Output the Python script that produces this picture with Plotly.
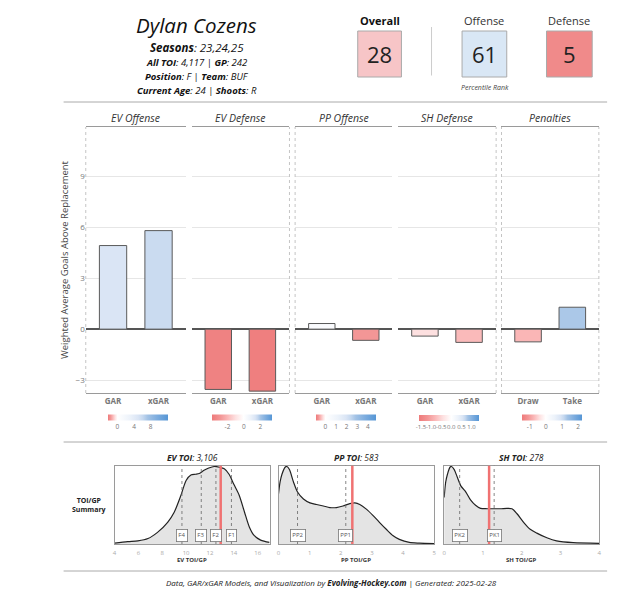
import plotly.graph_objects as go

W, H = 628, 600
def px(x): return x / W
def py(y): return 1 - y / H

FONT = "Open Sans"

# ---------------- data ----------------
player = "Dylan Cozens"
seasons = "23,24,25"
all_toi = "4,117"
games = "242"
position = "F"
team = "BUF"
age = "24"
shoots = "R"

pct_labels = ["Overall", "Offense", "Defense"]
pct_values = [28, 61, 5]

panel_titles = ["EV Offense", "EV Defense", "PP Offense", "SH Defense", "Penalties"]
panel_cats = [["GAR", "xGAR"], ["GAR", "xGAR"], ["GAR", "xGAR"], ["GAR", "xGAR"], ["Draw", "Take"]]
panel_values = [[4.92, 5.80], [-3.55, -3.65], [0.33, -0.66], [-0.41, -0.78], [-0.75, 1.29]]
scale_limits = [(-2.3, 12.1), (-3.85, 3.45), (-0.9, 4.74), (-1.6, 1.37), (-1.47, 2.25)]
scale_ticks = [[0, 4, 8], [-2, 0, 2], [0, 1, 2, 3, 4],
               [-1.5, -1.0, -0.5, 0.0, 0.5, 1.0], [-1, 0, 1, 2]]
scale_ticktext = [["0", "4", "8"], ["-2", "0", "2"], ["0", "1", "2", "3", "4"],
                  ["-1.5", "-1.0", "-0.5", "0.0", "0.5", "1.0"], ["-1", "0", "1", "2"]]
gar_ticks = [-3, 0, 3, 6, 9]

ev_x = [4.0, 5.1, 5.95, 6.8, 7.6, 8.45, 9.0, 9.57, 10.0, 10.4, 10.8, 11.1, 11.5, 11.9,
        12.35, 12.8, 13.2, 13.6, 14.0, 14.45, 14.9, 15.3, 15.7, 16.25, 17.0]
ev_y = [0.01, 0.03, 0.04, 0.07, 0.15, 0.28, 0.41, 0.63, 0.82, 0.89, 0.90, 0.91, 0.95, 0.98,
        1.0, 0.99, 0.97, 0.90, 0.77, 0.63, 0.41, 0.22, 0.11, 0.05, 0.02]
pp_x = [0.0, 0.05, 0.11, 0.21, 0.27, 0.35, 0.48, 0.61, 0.80, 1.01, 1.22, 1.44, 1.65, 1.86,
        2.07, 2.29, 2.45, 2.61, 2.82, 3.03, 3.24, 3.46, 3.67, 3.88, 4.2, 4.52, 5.0]
pp_y = [0.65, 0.80, 0.90, 0.99, 1.0, 0.96, 0.80, 0.67, 0.58, 0.53, 0.51, 0.49, 0.47, 0.47,
        0.49, 0.52, 0.53, 0.51, 0.45, 0.37, 0.28, 0.19, 0.11, 0.06, 0.02, 0.01, 0.004]
sh_x = [0.0, 0.04, 0.085, 0.15, 0.19, 0.26, 0.34, 0.43, 0.56, 0.68, 0.81, 0.94, 1.11, 1.28,
        1.45, 1.62, 1.75, 1.88, 2.05, 2.22, 2.39, 2.65, 2.9, 3.33, 4.0]
sh_y = [0.60, 0.80, 0.90, 0.99, 1.0, 0.96, 0.86, 0.75, 0.67, 0.57, 0.50, 0.46, 0.455, 0.455,
        0.455, 0.46, 0.455, 0.39, 0.28, 0.19, 0.14, 0.08, 0.04, 0.017, 0.009]

toi_titles = ["EV TOI", "PP TOI", "SH TOI"]
toi_totals = ["3,106", "583", "278"]
toi_axis_titles = ["EV TOI/GP", "PP TOI/GP", "SH TOI/GP"]
toi_ranges = [(4, 17), (0, 5), (0, 4)]
toi_tickvals = [[4, 6, 8, 10, 12, 14, 16], [0, 1, 2, 3, 4, 5], [0, 1, 2, 3, 4]]
toi_player = [12.9, 2.37, 1.16]
toi_ref_labels = [["F4", "F3", "F2", "F1"], ["PP2", "PP1"], ["PK2", "PK1"]]
toi_ref_values = [[9.65, 11.27, 12.5, 13.8], [0.61, 2.16], [0.40, 1.29]]

# ---------------- styles / geometry ----------------
bar_panels_px = [(84.3, 185), (191, 288.7), (295.3, 392.7), (399, 496.7), (502.7, 600.7)]
bar_top, bar_bot = 127, 393
dens_panels_px = [(113.3, 269.3), (278.3, 435), (445, 601)]
dens_top, dens_bot = 465.7, 544
box_px = [(358, 402), (463, 508), (548, 594)]
box_fill = ["#f7c5c7", "#d9e7f5", "#f08a8a"]

red_stops = [(0, (255, 255, 255)), (0.26, (253, 224, 224)), (0.5, (250, 184, 184)),
             (0.73, (243, 150, 150)), (1, (238, 122, 122))]
blue_stops = [(0, (255, 255, 255)), (0.25, (236, 242, 250)), (0.41, (218, 229, 245)),
              (0.5, (197, 216, 239)), (0.6, (162, 194, 229)), (0.8, (122, 171, 222)),
              (1, (86, 150, 213))]

def rgb(c):
    return "rgb(%d,%d,%d)" % c

def make_scale(cmin, cmax):
    z0 = -cmin / (cmax - cmin)
    cs = []
    for f, c in reversed(red_stops):
        cs.append([z0 * (1 - f), rgb(c)])
    for f, c in blue_stops[1:]:
        cs.append([z0 + (1 - z0) * f, rgb(c)])
    return cs

fig = go.Figure()
layout = dict(width=W, height=H, margin=dict(l=0, r=0, t=0, b=0),
              paper_bgcolor="white", plot_bgcolor="white",
              font=dict(family=FONT, color="#333"), showlegend=False)
annotations = []
shapes = []

# ---------------- bar panels ----------------
for i in range(5):
    n = i + 1
    xs = "x" if n == 1 else "x%d" % n
    ys = "y" if n == 1 else "y%d" % n
    l, r = bar_panels_px[i]
    cmin, cmax = scale_limits[i]
    cs = make_scale(cmin, cmax)
    fig.add_trace(go.Bar(
        x=panel_cats[i], y=panel_values[i], width=0.6, xaxis=xs, yaxis=ys,
        hoverinfo="skip",
        marker=dict(color=panel_values[i], colorscale=cs, cmin=cmin, cmax=cmax,
                    line=dict(color="#5a5a5a", width=1), showscale=True,
                    colorbar=dict(orientation="h", x=px((l + r) / 2 + 2), xanchor="center",
                                  y=py(421.5), yanchor="middle", lenmode="pixels", len=60,
                                  thicknessmode="pixels", thickness=6, outlinewidth=0,
                                  tickvals=scale_ticks[i], ticktext=scale_ticktext[i],
                                  tickfont=dict(size=6 if i == 3 else 6.5, color="#777"),
                                  ticks="", tickangle=0, xpad=0, ypad=0))))
    layout["xaxis" if n == 1 else "xaxis%d" % n] = dict(
        domain=[px(l), px(r)], anchor=ys, range=[-0.6, 1.6], type="category",
        showline=True, mirror=True, linecolor="#9a9a9a", linewidth=1, ticks="",
        showgrid=False, tickfont=dict(size=8, color="#777", weight="bold"), fixedrange=True)
    yax = dict(domain=[py(bar_bot), py(bar_top)], anchor=xs, range=[-3.76, 11.9],
               tickvals=gar_ticks, showgrid=True, gridcolor="#e6e6e6", gridwidth=1,
               zeroline=True, zerolinecolor="#555", zerolinewidth=1.5,
               showticklabels=(n == 1), tickfont=dict(size=8, color="#777"),
               ticks="", showline=False, fixedrange=True)
    if n == 1:
        yax["title"] = dict(text="Weighted Average Goals Above Replacement",
                            font=dict(size=9.5, color="#444"), standoff=5)
    layout["yaxis" if n == 1 else "yaxis%d" % n] = yax
    annotations.append(dict(x=px((l + r) / 2), y=py(118), text=panel_titles[i],
                            font=dict(size=10.5, color="#333", style="italic")))

for xv in [84.3, 289.3, 295, 497.3, 502.7, 600.7]:
    shapes.append(dict(type="line", xref="paper", yref="paper", x0=px(xv), x1=px(xv),
                       y0=py(bar_bot), y1=py(bar_top),
                       line=dict(color="#c4c4c4", width=1, dash="dot")))

# ---------------- density panels ----------------
dens_x = [ev_x, pp_x, sh_x]
dens_y = [ev_y, pp_y, sh_y]
for j in range(3):
    n = 6 + j
    xs, ys = "x%d" % n, "y%d" % n
    l, r = dens_panels_px[j]
    fig.add_trace(go.Scatter(x=dens_x[j], y=dens_y[j], xaxis=xs, yaxis=ys, mode="lines",
                             line=dict(color="#222", width=1.2, shape="spline", smoothing=0.8),
                             fill="tozeroy", fillcolor="#e4e4e4", hoverinfo="skip"))
    layout["xaxis%d" % n] = dict(domain=[px(l), px(r)], anchor=ys, range=list(toi_ranges[j]),
                                 tickvals=toi_tickvals[j], showgrid=False, zeroline=False,
                                 showline=True, mirror=True, linecolor="#9a9a9a", ticks="",
                                 ticklabelstandoff=3,
                                 tickfont=dict(size=6, color="#aaa"), fixedrange=True)
    layout["yaxis%d" % n] = dict(domain=[py(dens_bot), py(dens_top)], anchor=xs,
                                 range=[0, 1.01], showgrid=False, zeroline=False,
                                 showline=True, mirror=True, linecolor="#9a9a9a",
                                 showticklabels=False, ticks="", fixedrange=True)
    for lab, v in zip(toi_ref_labels[j], toi_ref_values[j]):
        shapes.append(dict(type="line", xref=xs, yref=ys + " domain", x0=v, x1=v, y0=0, y1=1,
                           line=dict(color="#666", width=0.8, dash="dot")))
    shapes.append(dict(type="line", xref=xs, yref=ys + " domain", x0=toi_player[j],
                       x1=toi_player[j], y0=0, y1=1, line=dict(color="#f07272", width=2.5)))
    for lab, v in zip(toi_ref_labels[j], toi_ref_values[j]):
        annotations.append(dict(x=v, y=0.11, xref=xs, yref=ys + " domain", text=lab,
                                bgcolor="white", bordercolor="#777",
                                borderwidth=0.8, borderpad=1.5,
                                font=dict(size=6, color="#555")))
    annotations.append(dict(x=px((l + r) / 2), y=py(457),
                            text="<b><i>%s</i></b><i>: %s</i>" % (toi_titles[j], toi_totals[j]),
                            font=dict(size=8.5, color="#222")))
    annotations.append(dict(x=px((l + r) / 2), y=py(560),
                            text="<b>%s</b>" % toi_axis_titles[j],
                            font=dict(size=6, color="#333")))

annotations.append(dict(x=px(88), y=py(505), text="<b>TOI/GP</b><br><b>Summary</b>",
                        font=dict(size=7, color="#222")))

# ---------------- header ----------------
hx = px(196)
annotations += [
    dict(x=hx, y=py(25.5), text="<i>%s</i>" % player, font=dict(size=20.5, color="#111")),
    dict(x=hx, y=py(48), text="<b><i>Seasons</i></b><i>: %s</i>" % seasons,
         font=dict(size=11.5, color="#111")),
    dict(x=hx, y=py(63), text="<b><i>All TOI</i></b><i>: %s</i> | <b><i>GP</i></b><i>: %s</i>"
         % (all_toi, games), font=dict(size=9.5, color="#111")),
    dict(x=hx, y=py(76.5), text="<b><i>Position</i></b><i>: %s</i> | <b><i>Team</i></b><i>: %s</i>"
         % (position, team), font=dict(size=9.5, color="#111")),
    dict(x=hx, y=py(90), text="<b><i>Current Age</i></b><i>: %s</i> | <b><i>Shoots</i></b><i>: %s</i>"
         % (age, shoots), font=dict(size=9.5, color="#111")),
]
for k in range(3):
    l, r = box_px[k]
    c = (l + r) / 2
    shapes.append(dict(type="rect", xref="paper", yref="paper", x0=px(l), x1=px(r),
                       y0=py(77), y1=py(31), fillcolor=box_fill[k],
                       line=dict(color="#aaa", width=1)))
    label = "<b>%s</b>" % pct_labels[k] if k == 0 else pct_labels[k]
    annotations.append(dict(x=px(c), y=py(20.5), text=label,
                            font=dict(size=11, color="#111" if k == 0 else "#333")))
    annotations.append(dict(x=px(c), y=py(54.5), text=str(pct_values[k]),
                            font=dict(size=22, color="#222")))
annotations.append(dict(x=px(486), y=py(87.5), text="<i>Percentile Rank</i>",
                        font=dict(size=7, color="#444")))
shapes.append(dict(type="line", xref="paper", yref="paper", x0=px(432.3), x1=px(432.3),
                   y0=py(27), y1=py(75.5), line=dict(color="#ccc", width=1)))

# separators
for yv in [102, 442, 571]:
    shapes.append(dict(type="line", xref="paper", yref="paper", x0=px(62), x1=px(609),
                       y0=py(yv), y1=py(yv), line=dict(color="#aaa", width=1)))

annotations.append(dict(x=px(332), y=py(582.5),
                        text="<i>Data, GAR/xGAR Models, and Visualization by </i><b><i>Evolving-Hockey.com</i></b><i> | Generated: 2025-02-28</i>",
                        font=dict(size=8, color="#222")))

for a in annotations:
    a.setdefault("xref", "paper")
    a.setdefault("yref", "paper")
    a.setdefault("showarrow", False)
    a.setdefault("xanchor", "center")
    a.setdefault("yanchor", "middle")

layout["annotations"] = annotations
layout["shapes"] = shapes
fig.update_layout(**layout)
fig.write_html("out.html", config={"displayModeBar": False},
               post_script="document.body.style.margin='0';document.body.style.overflow='hidden';")
